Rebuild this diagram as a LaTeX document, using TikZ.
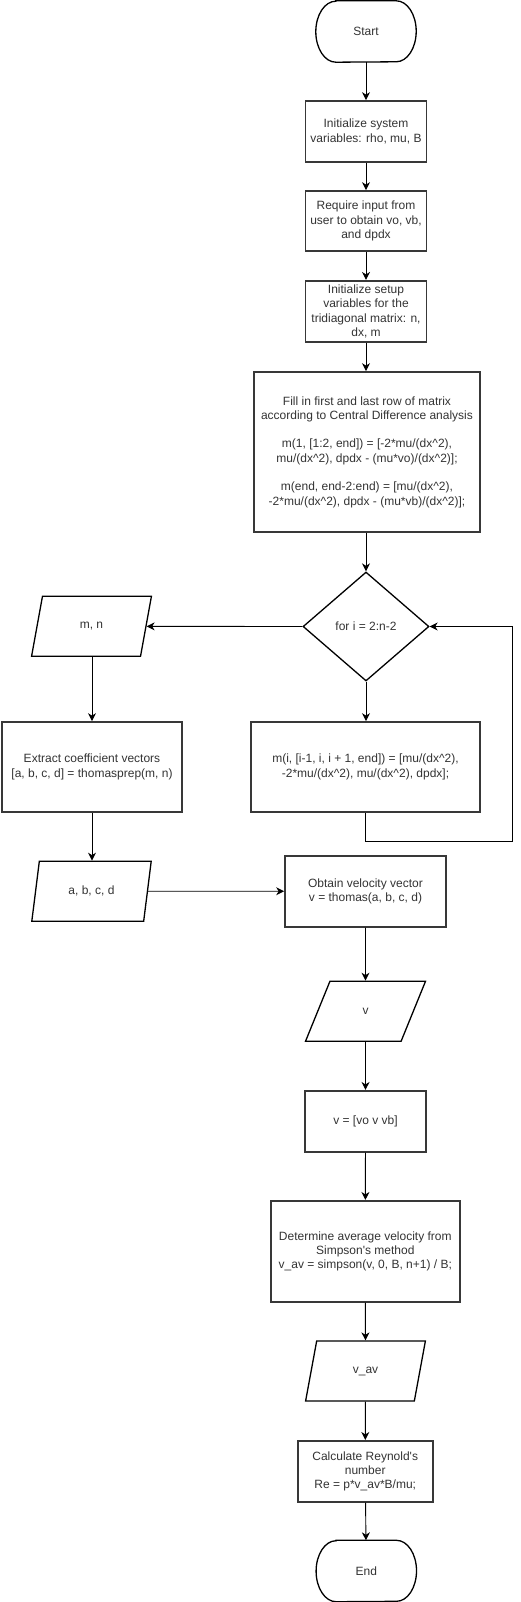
\documentclass[tikz,border=0pt]{standalone}
\usepackage{fontspec}
\setmainfont{Liberation Sans}
\usetikzlibrary{shapes.geometric,arrows.meta}
\newcommand{\termoutline}[1]{%
  \draw[termline] ([xshift=20pt]#1.north west) -- ([xshift=-20pt]#1.north east)
    arc[start angle=90,end angle=-90,x radius=20pt,y radius=30.5pt]
    -- ([xshift=20pt]#1.south west)
    arc[start angle=270,end angle=90,x radius=20pt,y radius=30.5pt] -- cycle;}
\begin{document}
\begin{tikzpicture}[x=1pt,y=-1pt]
\tikzset{
 txt/.style={font=\fontsize{12}{14.3}\selectfont, text=black!80, align=center},
 proc/.style={txt, draw=black!78, line width=1.7pt, rectangle, inner sep=2pt},
 termnode/.style={txt, rectangle, minimum width=100pt, minimum height=61pt, inner sep=0pt},
 termline/.style={draw=black, line width=1.3pt},
 io/.style={txt, draw=black, line width=1.3pt, trapezium, trapezium left angle=72, trapezium right angle=108, trapezium stretches=true, minimum width=120pt, minimum height=60pt, inner sep=0pt},
 dec/.style={txt, draw=black, line width=1.3pt, diamond, aspect=1.16, minimum width=126pt, minimum height=109pt, inner sep=0pt},
 arr/.style={-{Stealth[length=8pt,width=8pt,inset=2.5pt]}, line width=0.9pt, black},
}
\useasboundingbox (0,0) rectangle (520,1602);

\node[termnode] (start) at (366,31.5) {Start};
\termoutline{start}
\node[proc, minimum width=121pt, minimum height=61pt] (b1) at (366,131.5) {Initialize system\\variables: rho, mu, B};
\node[proc, minimum width=121pt, minimum height=60pt] (b2) at (366,221) {Require input from\\user to obtain vo, vb,\\and dpdx};
\node[proc, minimum width=121pt, minimum height=61pt] (b3) at (366,311.3) {Initialize setup\\variables for the\\tridiagonal matrix: n,\\dx, m};
\node[proc, minimum width=226pt, minimum height=160pt] (b4) at (367,452) {Fill in first and last row of matrix\\according to Central Difference analysis\\[14.3pt]m(1, [1:2, end]) = [-2*mu/(dx\textasciicircum2),\\mu/(dx\textasciicircum2), dpdx - (mu*vo)/(dx\textasciicircum2)];\\[14.3pt]m(end, end-2:end) = [mu/(dx\textasciicircum2),\\-2*mu/(dx\textasciicircum2), dpdx - (mu*vb)/(dx\textasciicircum2)];};
\node[dec] (dia) at (366,626.5) {for i = 2:n-2};
\node[io] (mn) at (91.5,626.3) {m, n};
\node[proc, minimum width=180pt, minimum height=90pt] (ext) at (92,767) {Extract coefficient vectors\\{}[a, b, c, d] = thomasprep(m, n)};
\node[proc, minimum width=229pt, minimum height=90pt] (lb) at (365.5,767) {m(i, [i-1, i, i + 1, end]) = [mu/(dx\textasciicircum2),\\-2*mu/(dx\textasciicircum2), mu/(dx\textasciicircum2), dpdx];};
\node[io] (abcd) at (91.5,891.3) {a, b, c, d};
\node[proc, minimum width=161pt, minimum height=71pt] (obt) at (365.5,891.2) {Obtain velocity vector\\v = thomas(a, b, c, d)};
\node[io] (v) at (365.5,1011.3) {v};
\node[proc, minimum width=121pt, minimum height=61pt] (vv) at (365.5,1121.3) {v = [vo v vb]};
\node[proc, minimum width=189pt, minimum height=101pt] (det) at (365.3,1251.3) {Determine average velocity from\\Simpson\textquotesingle s method\\v\_av = simpson(v, 0, B, n+1) / B;};
\node[io] (vav) at (365.5,1371) {v\_av};
\node[proc, minimum width=135pt, minimum height=61pt] (calc) at (365.2,1471.3) {Calculate Reynold\textquotesingle s\\number\\Re = p*v\_av*B/mu;};
\node[termnode] (end) at (366.3,1571) {End};
\termoutline{end}
\coordinate (lc) at (512,841);

\draw[arr] (start) -- (b1);
\draw[arr] (b1) -- (b2);
\draw[arr] (b2) -- (b3);
\draw[arr] (b3) -- (b4.north -| b3);
\draw[arr] (b4.south -| dia) -- (dia);
\draw[arr] (dia.west) -- (mn);
\draw[arr] (dia) -- (lb.north -| dia);
\draw[arr] (lb.south) |- (lc) |- (dia.east);
\draw[arr] (mn.south -| ext) -- (ext);
\draw[arr] (ext.south) -- (abcd.north -| ext);
\draw[arr] (abcd) -- (obt);
\draw[arr] (obt) -- (v);
\draw[arr] (v) -- (vv);
\draw[arr] (vv) -- (det);
\draw[arr] (det) -- (vav);
\draw[arr] (vav) -- (calc);
\draw[arr] (calc) -- (end);
\end{tikzpicture}
\end{document}
